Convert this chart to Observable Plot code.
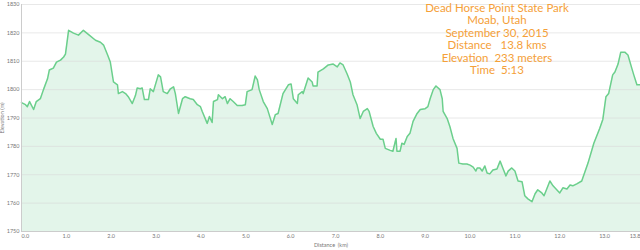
<!DOCTYPE html>
<html><head><meta charset="utf-8">
<script src="https://cdn.jsdelivr.net/npm/d3@7"></script>
<script src="https://cdn.jsdelivr.net/npm/@observablehq/plot@0.6"></script>
<style>
body{margin:0;background:#fff}
#wrap{position:relative;width:640px;height:250px;overflow:hidden}
#title{position:absolute;left:497px;top:2px;transform:translateX(-50%);text-align:center;white-space:nowrap;
 font-family:Lato,"Open Sans",sans-serif;font-size:11.5px;line-height:12.4px;color:#f5a038}
</style>
</head><body><div id="wrap"><div id="title"></div></div>
<script>
const distanceKm = [0.00,0.09,0.13,0.18,0.27,0.33,0.42,0.49,0.58,0.62,0.71,0.78,0.87,0.94,0.98,1.05,1.16,1.27,1.38,1.49,
1.65,1.76,1.83,1.92,1.98,2.05,2.14,2.16,2.25,2.32,2.38,2.47,2.54,2.58,2.65,2.69,2.74,2.83,2.87,2.94,
3.05,3.10,3.16,3.25,3.32,3.39,3.43,3.50,3.59,3.65,3.76,3.83,3.92,3.99,4.03,4.14,4.19,4.25,4.28,4.37,
4.39,4.48,4.54,4.59,4.65,4.72,4.81,4.92,4.99,5.03,5.14,5.21,5.26,5.30,5.39,5.48,5.59,5.66,5.72,5.83,
5.95,6.01,6.06,6.15,6.17,6.26,6.28,6.39,6.48,6.50,6.59,6.61,6.73,6.84,6.95,7.04,7.10,7.17,7.26,7.33,
7.39,7.48,7.55,7.62,7.71,7.75,7.84,7.91,8.00,8.06,8.11,8.22,8.28,8.35,8.37,8.44,8.48,8.53,8.60,8.66,
8.73,8.82,8.89,9.00,9.06,9.11,9.18,9.24,9.33,9.38,9.40,9.49,9.55,9.62,9.71,9.75,9.84,9.93,10.00,10.07,
10.13,10.16,10.22,10.27,10.33,10.38,10.44,10.51,10.60,10.67,10.73,10.80,10.85,10.93,11.00,11.07,11.16,11.22,11.29,11.38,
11.45,11.51,11.60,11.65,11.71,11.78,11.85,12.00,12.07,12.16,12.23,12.29,12.38,12.49,12.63,12.76,12.89,12.96,13.03,13.09,
13.18,13.23,13.30,13.36,13.45,13.52,13.61,13.65,13.72,13.80];
const elevationM = [1795.4,1794.7,1794.0,1795.8,1793.0,1795.8,1796.8,1800.0,1803.8,1806.9,1807.6,1809.7,1810.4,1811.5,1812.5,1820.9,1819.9,1819.2,1820.9,1819.5,
1817.4,1816.7,1815.7,1812.2,1809.7,1802.7,1801.7,1798.6,1799.3,1798.6,1797.5,1795.1,1797.9,1800.6,1800.3,1800.6,1796.5,1796.5,1800.3,1799.3,
1805.2,1804.5,1799.3,1798.6,1800.3,1801.0,1798.6,1791.6,1796.8,1797.5,1796.8,1796.5,1794.7,1794.0,1792.3,1788.1,1790.5,1788.4,1795.8,1796.5,
1798.2,1796.8,1797.5,1795.1,1796.8,1795.8,1794.4,1794.4,1794.7,1799.3,1800.0,1804.8,1803.4,1800.0,1795.8,1793.3,1787.7,1791.2,1791.6,1798.6,
1801.7,1802.0,1796.8,1795.1,1798.2,1799.3,1798.6,1804.1,1802.7,1801.3,1801.3,1806.2,1807.3,1808.7,1809.0,1808.0,1809.4,1808.7,1805.5,1802.7,
1798.2,1794.7,1789.8,1792.3,1793.3,1792.3,1787.0,1784.6,1782.5,1782.5,1779.3,1778.6,1778.3,1782.8,1778.3,1778.3,1781.1,1780.7,1783.5,1784.6,
1788.8,1791.6,1793.0,1793.3,1794.0,1796.8,1800.0,1801.3,1800.0,1796.8,1792.3,1789.8,1787.0,1782.8,1779.3,1774.1,1773.8,1773.8,1773.4,1772.7,
1771.3,1772.4,1772.4,1771.3,1773.1,1770.6,1770.3,1771.7,1772.0,1774.8,1772.4,1769.6,1771.3,1772.4,1771.3,1767.8,1767.5,1762.6,1761.5,1760.5,
1763.3,1764.7,1763.6,1762.6,1765.0,1767.8,1766.1,1763.6,1765.4,1765.0,1766.4,1766.1,1766.8,1767.8,1774.1,1781.1,1786.3,1789.5,1797.5,1798.6,
1805.2,1806.2,1809.0,1813.2,1813.2,1812.2,1807.3,1805.2,1801.7,1801.7];
const titleLines = ["Dead Horse Point State Park","Moab, Utah","September 30, 2015","Distance   13.8 kms","Elevation  233 meters","Time  5:13"];
const xTicks = [0,1,2,3,4,5,6,7,8,9,10,11,12,13,13.8];
const yTicks = [1750,1760,1770,1780,1790,1800,1810,1820,1830];
const xLabel = "Distance  (km)";
const yLabel = "Elevation (m)";

const data = distanceKm.map((d,i)=>({d, e: elevationM[i]}));
const inner = xTicks.slice(1,-1);
const chart = Plot.plot({
  width:640, height:250,
  marginLeft:21, marginRight:0, marginTop:4, marginBottom:19,
  x:{domain:[0,13.8]},
  y:{domain:[1750,1830]},
  style:{fontFamily:"Lato, sans-serif", fontSize:"5.5px", color:"#777", background:"#fff"},
  marks:[
    Plot.areaY(data,{x:"d", y1:1750, y2:"e", fill:"#e3f5ea"}),
    Plot.gridY(yTicks,{stroke:"#d8d8d8", strokeOpacity:0.6}),
    Plot.lineY(data,{x:"d", y:"e", stroke:"#6bcf8c", strokeWidth:1.5}),
    Plot.ruleX([0],{stroke:"#ccc"}),
    Plot.ruleY([1750],{stroke:"#ccc"}),
    Plot.axisY(yTicks,{tickSize:0, tickPadding:2, tickFormat:d=>String(d), label:yLabel, labelAnchor:"center", labelArrow:"none", labelOffset:21}),
    Plot.axisX(inner,{tickSize:0, tickPadding:3, tickFormat:".1f", label:xLabel, labelAnchor:"center", labelArrow:"none", labelOffset:15}),
    Plot.axisX([xTicks[0]],{tickSize:0, tickPadding:3, tickFormat:".1f", textAnchor:"start", label:null}),
    Plot.axisX([xTicks[xTicks.length-1]],{tickSize:0, tickPadding:3, tickFormat:".1f", textAnchor:"end", label:null})
  ]
});
const wrap = document.getElementById("wrap");
wrap.insertBefore(chart, wrap.firstChild);
document.getElementById("title").innerHTML = titleLines.map(s=>s.replace(/ /g,"&nbsp;")).join("<br>");
</script>
</body></html>
